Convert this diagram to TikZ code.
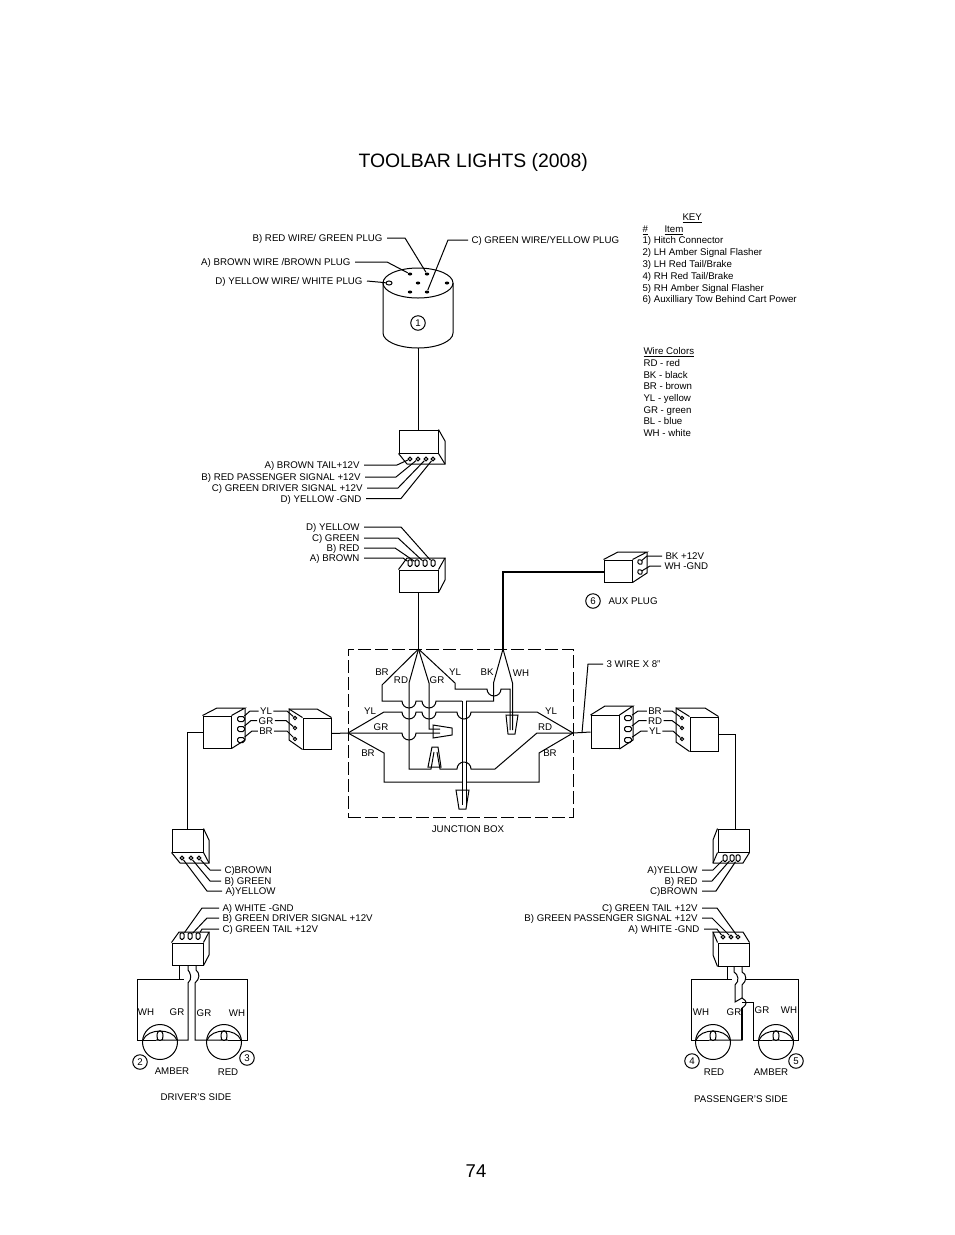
\documentclass[tikz,border=0pt]{standalone}
\usepackage{fontspec}
\setmainfont{Liberation Sans}
\usetikzlibrary{positioning,shapes.geometric}
\tikzset{
	every node/.style={font=\fontsize{9.7}{11}\selectfont,inner sep=0pt},
	every path/.style={line width=1pt},
	tag/.style={text height=7pt,text depth=0pt},
	lblr/.style={tag,anchor=east,inner xsep=4pt},
	lbll/.style={tag,anchor=west,inner xsep=3pt},
	txt/.style={tag,anchor=west},
	front/.style={draw,rectangle},
	hole/.style={draw,circle,minimum size=3.8pt,line width=1pt},
	dhole/.style={draw,rectangle,rounded corners=1.4pt,minimum width=4pt,minimum height=6.5pt},
	sidehole/.style={draw,rectangle,rounded corners=1.6pt,minimum width=7pt,minimum height=5pt},
	num/.style={tag,draw,circle,minimum size=14.5pt},
	lamp/.style={draw,circle,minimum size=35pt},
	thickwire/.style={line width=1.5pt}
}
\newcommand{\hopdn}{arc[start angle=180,end angle=360,radius=7pt]}
\newcommand{\hopup}{arc[start angle=180,end angle=0,radius=7pt]}
\newcommand{\bulb}[1]{
	\begin{scope}[shift={(#1)}]
	\draw (-17,-2) .. controls (-12,-14) and (12,-14) .. (17,-2);
	\draw (-4,-2) .. controls (0,-2) and (3,0) .. (3,-6) .. controls (3,-13) and (-3,-13) .. (-3,-6) .. controls (-3,0) and (0,-2) .. (4,-2);
	\end{scope}
}
\begin{document}
\begin{tikzpicture}[x=1pt,y=-1pt]
	\useasboundingbox (0,0) rectangle (954,1235);

	\node(title) [anchor=west,font=\fontsize{19.4}{21}\selectfont,text height=14pt,text depth=0pt] at (358,160) {TOOLBAR LIGHTS (2008)};
	\node(pagenum) [font=\fontsize{18.5}{20}\selectfont] at (476,1171) {74};

	% key
	\node(keyhead) [txt] at (682,217) {\underline{KEY}};
	\node(keyno) [txt] at (642,229) {\underline{\#}};
	\node(keyitem) [txt] at (664,229) {\underline{Item}};
	\foreach \n/\y/\t in {a/240/{1) Hitch Connector},b/252/{2) LH Amber Signal Flasher},c/264/{3) LH Red Tail/Brake},d/276/{4) RH Red Tail/Brake},e/288/{5) RH Amber Signal Flasher},f/299/{6) Auxilliary Tow Behind Cart Power}}
		\node(key\n) [txt] at (642,\y) {\t};
	\node(colhead) [txt] at (643,351) {\underline{Wire Colors}};
	\foreach \n/\y/\t in {a/363/RD - red,b/375/BK - black,c/386/BR - brown,d/398/YL - yellow,e/410/GR - green,f/421/BL - blue,g/433/WH - white}
		\node(col\n) [txt] at (643,\y) {\t};

	% hitch connector
	\draw (383,283) -- (383,333) arc[start angle=180,end angle=360,x radius=35pt,y radius=15pt] -- (453,283);
	\draw (418,283) ellipse [x radius=35pt,y radius=15pt];
	\node(one) [num] at (418,323) {1};
	\coordinate (cylbot) at (418.5,348);
	\foreach \n/\x/\y in {a/410/274,b/427/274,c/418/283,d/447/283,e/410/292,f/427/292}
		\node(pin\n) [ellipse,fill,minimum width=4.5pt,minimum height=3pt] at (\x,\y) {};
	\node(pind) [draw,ellipse,minimum width=6pt,minimum height=4pt] at (389,283) {};
	\node(lhb) [lblr] at (387,238) {B) RED WIRE/ GREEN PLUG};
	\node(lha) [lblr] at (355,262) {A) BROWN WIRE /BROWN PLUG};
	\node(lhd) [lblr] at (367,281) {D) YELLOW WIRE/ WHITE PLUG};
	\node(lhc) [lbll] at (468,240) {C) GREEN WIRE/YELLOW PLUG};
	\draw (lhb.east) -- (405,238) -- (pinb);
	\draw (lha.east) -- (387,262) -- (pina);
	\draw (lhd.east) -- (pind);
	\draw (lhc.west) -- (448,240) -- (pinf);

	% upper plug
	\node(pluga) [front,minimum width=39pt,minimum height=23pt] at (418.5,441.5) {};
	\draw (pluga.north east) -- (445,441) -- (445,464) -- (407,464) -- (pluga.south west);
	\draw (pluga.south east) -- (445,464);
	\draw (cylbot) -- (pluga.north -| cylbot);
	\foreach \n/\x in {a/410,b/418,c/426,d/433}
		\node(ha\n) [hole] at (\x,459) {};
	\node(la1) [lblr] at (364,465) {A) BROWN TAIL+12V};
	\node(la2) [lblr] at (365,477) {B) RED PASSENGER SIGNAL +12V};
	\node(la3) [lblr] at (367,488) {C) GREEN DRIVER SIGNAL +12V};
	\node(la4) [lblr] at (366,498.5) {D) YELLOW -GND};
	\draw (la1.east) -- (397,465) -- (haa);
	\draw (la2.east) -- (396,477) -- (hab);
	\draw (la3.east) -- (398,488) -- (hac);
	\draw (la4.east) -- (401,498.5) -- (had);

	% lower plug
	\node(plugb) [front,minimum width=39pt,minimum height=22pt] at (418.5,581) {};
	\draw (plugb.north west) -- (407,558) -- (445,558) -- (plugb.north east);
	\draw (445,558) -- (445,580) -- (plugb.south east);
	\foreach \n/\x in {a/410,b/417,c/425,d/433}
		\node(hb\n) [dhole] at (\x,563) {};
	\node(lb4) [lblr] at (364,527) {D) YELLOW};
	\node(lb3) [lblr] at (364,538) {C) GREEN};
	\node(lb2) [lblr] at (364,548) {B) RED};
	\node(lb1) [lblr] at (364,558) {A) BROWN};
	\draw (lb4.east) -- (401,527) -- (hbd);
	\draw (lb3.east) -- (398,538) -- (hbc);
	\draw (lb2.east) -- (395,548) -- (hbb);
	\draw (lb1.east) -- (403,558) -- (hba);

	% aux plug
	\node(plugc) [front,minimum width=28pt,minimum height=22pt] at (618,571) {};
	\draw (plugc.north west) -- (618,552) -- (647,552) -- (plugc.north east);
	\draw (647,552) -- (647,573) -- (plugc.south east);
	\node(hca) [sidehole,minimum width=4pt,rotate=40] at (640,562) {};
	\node(hcb) [sidehole,minimum width=4pt,rotate=40] at (640,572) {};
	\node(lc1) [lbll] at (662,556) {BK +12V};
	\node(lc2) [lbll] at (661,566) {WH -GND};
	\draw (lc1.west) -- (647,556) -- (hca);
	\draw (lc2.west) -- (650,566) -- (hcb);
	\node(six) [num] at (593,601) {6};
	\node(auxlbl) [txt] at (608,601) {AUX PLUG};

	% junction box
	\node(jbox) [draw,rectangle,dash pattern=on 13pt off 4pt,minimum width=225pt,minimum height=168pt] at (460.5,733) {};
	\node(jlbl) [tag] at (468,829) {JUNCTION BOX};
	\coordinate (jT) at (418.5,649);
	\coordinate (jK) at (503,649);
	\coordinate (jL) at (348,733);
	\coordinate (jR) at (573,733);
	\draw (plugb.south) -- (jT);
	\draw[thickwire] (plugc.west |- 0,572) -- (503,572) -- (jK);
	\draw (jT) -- (382,685) -- (382,701) -- (402,701) \hopdn -- (422,701) \hopdn -- (462,701);
	\draw (jT) -- (409,683) -- (409,769) -- (431,769) -- (434,752);
	\draw (jT) -- (429,683) -- (429,729) -- (440,729);
	\draw (jT) -- (455,683) -- (455,689) -- (487,689) \hopdn -- (510,689) -- (510,730);
	\draw (jK) -- (493.5,683) -- (493.5,701) -- (466,701);
	\draw (jK) -- (512.5,683) -- (512.5,730);
	\draw (jL) -- (384,712) -- (402,712) \hopdn -- (422,712) \hopdn -- (457,712) \hopdn -- (537,712) -- (jR);
	\draw (jL) -- (402,733) \hopdn -- (440,733);
	\draw (jL) -- (384,753) -- (384,782) -- (462,782);
	\draw (jR) -- (539,753) -- (539,782) -- (466,782);
	\draw (437,752) -- (440,769) -- (457,769) \hopup -- (495,769) -- (537,733) -- (jR);
	\draw (462,701) -- (462,805);
	\draw (466,701) -- (466,805);
	% wire nuts
	\draw (506,715) -- (518,715) -- (515,734) -- (508,734) -- cycle;
	\draw (456,790) -- (469,790) -- (466,809) -- (459,809) -- cycle;
	\draw (433,725) -- (452,728) -- (452,735) -- (433,738) -- cycle;
	\draw (432,747) -- (438,747) -- (441,767) -- (428,767) -- cycle;
	\foreach \n/\x/\y/\t in {a/382/672/BR,b/401/680/RD,c/437/680/GR,d/455/672/YL,e/487/672/BK,f/521/673/WH,g/370/711/YL,h/381/727/GR,i/368/753/BR,j/551/711/YL,k/545/727/RD,l/550/753/BR}
		\node(jt\n) [tag] at (\x,\y) {\t};

	% left pair at box
	\node(plugd) [front,minimum width=28pt,minimum height=32pt] at (217,732) {};
	\draw (plugd.north west) -- (217,708) -- (245,708) -- (plugd.north east);
	\draw (245,708) -- (245,740) -- (plugd.south east);
	\foreach \n/\y in {a/719,b/729,c/740}
		\node(hd\n) [sidehole] at (241,\y) {};
	\node(plugdd) [front,minimum width=28pt,minimum height=31pt] at (317,733.5) {};
	\draw (plugdd.north west) -- (289,709) -- (289,740) -- (plugdd.south west);
	\draw (289,709) -- (317,709) -- (plugdd.north east);
	\foreach \n/\y in {a/718,b/728,c/739}
		\node(hdd\n) [hole,minimum size=3.4pt] at (295,\y) {};
	\foreach \n/\y/\t in {a/711/YL,b/720.5/GR,c/731/BR}
		\node(ld\n) [tag,inner xsep=1pt] at (266,\y) {\t};
	\draw (hda) -- (250,711) -- (lda.west);
	\draw (hdb) -- (251,720.5) -- (ldb.west);
	\draw (hdc) -- (252,731) -- (ldc.west);
	\draw (lda.east) -- (287,711) -- (hdda);
	\draw (ldb.east) -- (286,720.5) -- (hddb);
	\draw (ldc.east) -- (287,731) -- (hddc);
	\draw (plugdd.east) -- (jL);

	% right pair at box
	\node(puge) [front,minimum width=28pt,minimum height=33pt] at (605,732) {};
	\draw (puge.north west) -- (605,706) -- (633,706) -- (puge.north east);
	\draw (633,706) -- (633,740) -- (puge.south east);
	\foreach \n/\y in {a/718,b/729,c/740}
		\node(he\n) [sidehole] at (628,\y) {};
	\node(plugee) [front,minimum width=28pt,minimum height=34pt] at (704,734) {};
	\draw (plugee.north west) -- (676,708) -- (676,742) -- (plugee.south west);
	\draw (676,708) -- (705,708) -- (plugee.north east);
	\foreach \n/\y in {a/718,b/728,c/739}
		\node(hee\n) [hole,minimum size=3.4pt] at (682,\y) {};
	\foreach \n/\y/\t in {a/711/BR,b/720.5/RD,c/731/YL}
		\node(le\n) [tag,inner xsep=1pt] at (655,\y) {\t};
	\draw (hea) -- (638,711) -- (lea.west);
	\draw (heb) -- (639,720.5) -- (leb.west);
	\draw (hec) -- (641,731) -- (lec.west);
	\draw (lea.east) -- (672,711) -- (heea);
	\draw (leb.east) -- (672,720.5) -- (heeb);
	\draw (lec.east) -- (673,731) -- (heec);
	\draw (jR) -- (puge.west);
	\node(wirelbl) [lbll] at (603,664) {3 WIRE X 8"};
	\draw (wirelbl.west) -- (588,664) -- (582,733);

	% driver's side, upper plug
	\node(plugf) [front,minimum width=31pt,minimum height=23pt] at (187.5,840.5) {};
	\draw (plugf.north east) -- (209,840) -- (209,863) -- (180,863) -- (plugf.south west);
	\draw (plugf.south east) -- (209,863);
	\draw (plugd.west) -- (187.5,732) -- (plugf.north);
	\foreach \n/\x in {a/182,b/191,c/199}
		\node(hf\n) [hole] at (\x,858) {};
	\node(lf1) [lbll] at (221,870) {C)BROWN};
	\node(lf2) [lbll] at (221,881) {B) GREEN};
	\node(lf3) [lbll] at (222,891) {A)YELLOW};
	\draw (lf1.west) -- (210,870) -- (hfc);
	\draw (lf2.west) -- (210,881) -- (hfb);
	\draw (lf3.west) -- (207,891) -- (hfa);

	% driver's side, lower plug
	\node(plugg) [front,minimum width=31pt,minimum height=22pt] at (187.5,954) {};
	\draw (plugg.north west) -- (179,932) -- (209,932) -- (plugg.north east);
	\draw (209,932) -- (209,955) -- (plugg.south east);
	\foreach \n/\x in {a/182,b/190,c/198}
		\node(hg\n) [dhole] at (\x,936) {};
	\node(lg1) [lbll] at (219,908) {A) WHITE -GND};
	\node(lg2) [lbll] at (219,918) {B) GREEN DRIVER SIGNAL +12V};
	\node(lg3) [lbll] at (219,929) {C) GREEN TAIL +12V};
	\draw (lg1.west) -- (202,908) -- (hga);
	\draw (lg2.west) -- (207,918) -- (hgb);
	\draw (lg3.west) -- (202,929) -- (hgc);

	% driver's side lamps
	\node(lampa) [lamp] at (160,1042) {};
	\node(lampb) [lamp] at (224,1042) {};
	\bulb{lampa}
	\bulb{lampb}
	\draw (179,965) -- (179,979) -- (137,979) -- (137,1040) -- (156,1040);
	\draw (164,1040) -- (188,1040) -- (188,983) .. controls (193,979) and (190,972) .. (188,970) -- (188,965);
	\draw (179,979) -- (184,979);
	\draw (196,965) -- (196,970) .. controls (200,973) and (200,979) .. (195,983) -- (195,1040) -- (220,1040);
	\draw (228,1040) -- (247,1040) -- (247,979) -- (200,979);
	\foreach \n/\x/\y/\t in {a/146/1012/WH,b/177/1012/GR,c/204/1013/GR,d/237/1013/WH,e/172/1071/AMBER,f/228/1072/RED,g/196/1097/DRIVER'S SIDE}
		\node(dt\n) [tag] at (\x,\y) {\t};
	\node(two) [num] at (140,1062) {2};
	\node(three) [num] at (247,1058) {3};

	% passenger's side, upper plug
	\node(plugh) [front,minimum width=31pt,minimum height=23pt] at (733.5,840.5) {};
	\draw (plugh.north west) -- (713,840) -- (713,863) -- (743,863) -- (plugh.south east);
	\draw (plugh.south west) -- (713,863);
	\draw (plugee.east) -- (735,734) -- (735,829);
	\foreach \n/\x in {a/725,b/732,c/738}
		\node(hh\n) [dhole] at (\x,858) {};
	\node(lh1) [lblr] at (702,870) {A)YELLOW};
	\node(lh2) [lblr] at (702,881) {B) RED};
	\node(lh3) [lblr] at (702,891) {C)BROWN};
	\draw (lh1.east) -- (713,870) -- (hha);
	\draw (lh2.east) -- (712,881) -- (hhb);
	\draw (lh3.east) -- (716,891) -- (hhc);

	% passenger's side, lower plug
	\node(plugi) [front,minimum width=31pt,minimum height=23pt] at (733.5,954.5) {};
	\draw (plugi.north west) -- (713,932) -- (743,932) -- (plugi.north east);
	\draw (713,932) -- (713,955) -- (plugi.south west);
	\foreach \n/\x in {a/723,b/731,c/738}
		\node(hi\n) [hole] at (\x,937) {};
	\node(li3) [lblr] at (702,908) {C) GREEN TAIL +12V};
	\node(li2) [lblr] at (702,918) {B) GREEN PASSENGER SIGNAL +12V};
	\node(li1) [lblr] at (704,929) {A) WHITE -GND};
	\draw (li3.east) -- (717,908) -- (hic);
	\draw (li2.east) -- (712,918) -- (hib);
	\draw (li1.east) -- (717,929) -- (hia);

	% passenger's side lamps
	\node(lampc) [lamp] at (713,1042) {};
	\node(lampd) [lamp] at (776,1042) {};
	\bulb{lampc}
	\bulb{lampd}
	\draw (727,966) -- (727,979) -- (691,979) -- (691,1040) -- (709,1040);
	\draw (727,979) -- (732,979);
	\draw (717,1040) -- (742,1040) -- (742,1008) .. controls (748,1004) and (747,1001) .. (742,998) -- (735,1002) -- (735,985) .. controls (740,981) and (738,974) .. (734,972) -- (734,966);
	\draw[thickwire] (742,1008) -- (742,1040);
	\draw (742,966) -- (742,972) .. controls (747,974) and (747,981) .. (742,985) -- (742,998);
	\draw (742,1002) -- (753,1002) -- (753,1040) -- (772,1040);
	\draw (780,1040) -- (798,1040) -- (798,979) -- (746,979);
	\foreach \n/\x/\y/\t in {a/701/1012/WH,b/734/1012/GR,c/762/1010/GR,d/789/1010/WH,e/714/1072/RED,f/771/1072/AMBER,g/741/1099/PASSENGER'S SIDE}
		\node(pt\n) [tag] at (\x,\y) {\t};
	\node(four) [num] at (692,1061) {4};
	\node(five) [num] at (796,1061) {5};
\end{tikzpicture}
\end{document}
